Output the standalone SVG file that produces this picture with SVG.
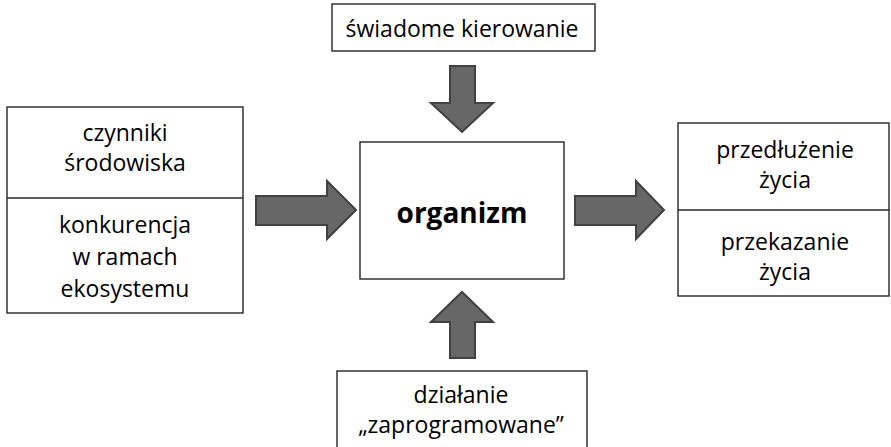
<svg xmlns="http://www.w3.org/2000/svg" width="891" height="447" viewBox="0 0 891 447">
  <style>
    .box { fill: #ffffff; stroke: #262626; stroke-width: 1.4; }
    .div { stroke: #262626; stroke-width: 1.4; }
    .lbl { font-family: "Open Sans", "Liberation Sans", sans-serif; font-size: 23px; fill: #000000; text-anchor: middle; }
    .big { font-family: "Open Sans", "Liberation Sans", sans-serif; font-size: 28px; font-weight: bold; fill: #000000; text-anchor: middle; }
    .arrow { fill: #676767; stroke: #414141; stroke-width: 2; stroke-linejoin: miter; }
  </style>
  <rect width="891" height="447" fill="#ffffff"/>

  <g id="connectors">
    <!-- left input into organism -->
    <polygon class="arrow" points="256,196 327,196 327,181 356,210 327,239 327,225 256,225"/>
    <!-- organism output -->
    <polygon class="arrow" points="575,196 636,196 636,181 664,210 636,239 636,225 575,225"/>
    <!-- from top -->
    <polygon class="arrow" points="450,66 475,66 475,103 493,103 462,132 431,103 450,103"/>
    <!-- from bottom -->
    <polygon class="arrow" points="450,358 475,358 475,322 493,322 462,292 431,322 450,322"/>
  </g>

  <g id="environment">
    <rect class="box" x="7" y="107" width="236" height="206"/>
    <line class="div" x1="7" y1="198" x2="243" y2="198"/>
    <text class="lbl" x="125" y="141">czynniki</text>
    <text class="lbl" x="125" y="171">środowiska</text>
    <text class="lbl" x="125" y="233">konkurencja</text>
    <text class="lbl" x="125" y="265">w ramach</text>
    <text class="lbl" x="125" y="297">ekosystemu</text>
  </g>

  <g id="organism">
    <rect class="box" x="360" y="142" width="204" height="137"/>
    <text class="big" x="462" y="223">organizm</text>
  </g>

  <g id="conscious-control">
    <rect class="box" x="332" y="4" width="263" height="47"/>
    <text class="lbl" x="462" y="37">świadome kierowanie</text>
  </g>

  <g id="programmed-action">
    <rect class="box" x="337" y="371" width="250" height="80"/>
    <text class="lbl" x="461" y="403">działanie</text>
    <text class="lbl" x="461" y="433">„zaprogramowane”</text>
  </g>

  <g id="life">
    <rect class="box" x="678" y="123" width="211" height="173"/>
    <line class="div" x1="678" y1="210" x2="889" y2="210"/>
    <text class="lbl" x="785" y="158">przedłużenie</text>
    <text class="lbl" x="785" y="188">życia</text>
    <text class="lbl" x="785" y="250">przekazanie</text>
    <text class="lbl" x="785" y="280">życia</text>
  </g>
</svg>
